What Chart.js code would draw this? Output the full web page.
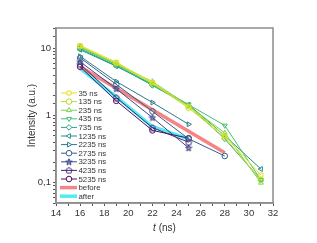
<!DOCTYPE html>
<html>
<head>
<meta charset="utf-8">
<script src="https://cdn.jsdelivr.net/npm/chart.js@4/dist/chart.umd.min.js"></script>
<style>
  html, body { margin: 0; padding: 0; background: #fff; }
  #wrap { width: 317px; height: 243px; }
</style>
</head>
<body>
<div id="wrap"><canvas id="chart" width="317" height="243"></canvas></div>
<script>
// delay times (x axis, ns)
const tNs = [16, 19, 22, 25, 28, 31];
const xTicks = [14, 16, 18, 20, 22, 24, 26, 28, 30, 32];

const labels = ["35 ns", "135 ns", "235 ns", "435 ns", "735 ns", "1235 ns",
                "2235 ns", "2735 ns", "3235 ns", "4235 ns", "5235 ns"];

// intensity (a.u.), one array per delay
const i35   = [11.0, 6.2, 3.1, 1.35, 0.50, 0.13];
const i135  = [10.7, 6.0, 3.0, 1.30, 0.47, 0.11];
const i235  = [10.5, 5.8, 3.2, 1.40, 0.55, 0.10];
const i435  = [10.2, 5.7, 2.9, 1.45, 0.71, 0.11];
const i735  = [9.8, 5.5, 2.8, 1.40, 0.45, 0.11];
const i1235 = [9.5, 5.4, 2.9, 1.45, 0.50, 0.16];
const i2235 = [7.6, 3.2, 1.56, 0.74];
const i2735 = [7.2, 2.9, 1.15, 0.45, 0.25];
const i3235 = [6.3, 2.5, 0.93, 0.33];
const i4235 = [5.8, 1.85, 0.66, 0.40];
const i5235 = [5.3, 1.65, 0.60, 0.46];

// fitted guides
const beforeT = [16, 28];
const beforeI = [5.3, 0.28];
const afterT = [16, 19, 22, 25];
const afterI = [5.0, 1.9, 0.68, 0.45];

const series = [i35, i135, i235, i435, i735, i1235, i2235, i2735, i3235, i4235, i5235];
const colors = ["#e4e01a", "#b5de2b", "#7ad151", "#44bf70", "#22a884", "#21918c",
                "#2a788e", "#355f8d", "#414487", "#482475", "#46105e"];

// custom polygon markers drawn on small canvases
function shapeImage(kind, color) {
  const c = document.createElement('canvas');
  c.width = 8; c.height = 8;
  const g = c.getContext('2d');
  g.strokeStyle = color;
  g.lineWidth = 1;
  g.beginPath();
  const n = kind === 'star' ? 10 : 5;
  for (let k = 0; k < n; k++) {
    const a = -Math.PI / 2 + k * 2 * Math.PI / n;
    const r = kind === 'star' ? (k % 2 ? 1.4 : 3.4) : 3.2;
    const px = 4 + r * Math.cos(a), py = 4.3 + r * Math.sin(a);
    if (k === 0) g.moveTo(px, py); else g.lineTo(px, py);
  }
  g.closePath();
  if (kind === 'star') { g.fillStyle = 'rgba(90,100,170,0.6)'; g.fill(); }
  g.stroke();
  return c;
}

const styles = [
  ['rect', 0], ['circle', 0], ['triangle', 0], ['triangle', 180], ['rectRot', 0],
  ['triangle', 270], ['triangle', 90], ['circle', 0], [shapeImage('star', colors[8]), 0],
  [shapeImage('pentagon', colors[9]), 0], ['circle', 0]
];

const datasets = series.map((vals, i) => ({
  label: labels[i],
  data: vals.map((v, j) => ({ x: tNs[j], y: v })),
  borderColor: colors[i],
  backgroundColor: 'rgba(255,255,255,0)',
  borderWidth: 1,
  pointStyle: styles[i][0],
  pointRotation: styles[i][1],
  pointRadius: 2.8,
  pointBorderWidth: 1,
  tension: 0
}));

datasets.push({
  label: 'before',
  data: beforeT.map((t, j) => ({ x: t, y: beforeI[j] })),
  borderColor: 'rgba(244,110,110,0.85)',
  borderWidth: 3.5,
  pointRadius: 0,
  order: 5
});
datasets.push({
  label: 'after',
  data: afterT.map((t, j) => ({ x: t, y: afterI[j] })),
  borderColor: 'rgba(60,235,240,0.9)',
  borderWidth: 3.5,
  pointRadius: 0,
  order: 5
});

const frameAndText = {
  id: 'frameAndText',
  afterDraw(chart) {
    const { ctx, chartArea: a } = chart;
    ctx.save();
    ctx.strokeStyle = '#8c8c8c';
    ctx.lineWidth = 1.5;
    ctx.strokeRect(a.left, a.top, a.right - a.left, a.bottom - a.top);

    // axis titles
    ctx.fillStyle = '#333';
    ctx.textBaseline = 'middle';
    const rest = ' (ns)';
    ctx.font = '10px "Liberation Sans", Arial';
    const wRest = ctx.measureText(rest).width;
    ctx.font = 'italic 10px "Liberation Sans", Arial';
    const wT = ctx.measureText('t').width;
    const cx = (a.left + a.right) / 2;
    let x0 = cx - (wT + wRest) / 2;
    ctx.textAlign = 'left';
    ctx.fillText('t', x0, 228);
    ctx.font = '10px "Liberation Sans", Arial';
    ctx.fillText(rest, x0 + wT, 228);

    ctx.translate(32, (a.top + a.bottom) / 2);
    ctx.rotate(-Math.PI / 2);
    ctx.textAlign = 'center';
    ctx.fillText('Intensity (a.u.)', 0, 0);
    ctx.restore();

    // legend inside plot
    ctx.save();
    ctx.font = '7.8px "Liberation Sans", Arial';
    ctx.textBaseline = 'middle';
    ctx.textAlign = 'left';
    chart.data.datasets.forEach((ds, i) => {
      const y = 93 + i * 8.6;
      const thick = ds.pointRadius === 0;
      ctx.strokeStyle = ds.borderColor;
      ctx.lineWidth = thick ? 3.5 : 1;
      ctx.beginPath();
      ctx.moveTo(thick ? 60 : 61, y);
      ctx.lineTo(77, y);
      ctx.stroke();
      if (!thick) {
        ctx.fillStyle = '#fff';
        ctx.lineWidth = 1;
        Chart.helpers.drawPoint(ctx, {
          pointStyle: ds.pointStyle, rotation: ds.pointRotation,
          radius: 2.8, borderWidth: 1
        }, 69, y);
      }
      ctx.fillStyle = '#333';
      ctx.fillText(ds.label, 78.5, y + 0.5);
    });
    ctx.restore();
  }
};

new Chart('chart', {
  type: 'line',
  data: { datasets },
  options: {
    responsive: false,
    animation: false,
    layout: { padding: { left: 0, top: 28, right: 44, bottom: 0 } },
    plugins: { legend: { display: false }, tooltip: { enabled: false } },
    scales: {
      x: {
        type: 'linear',
        min: 14, max: 32,
        afterFit: s => { s.height = 40; },
        grid: { drawOnChartArea: false, tickLength: 3, tickColor: '#555' },
        border: { color: '#8c8c8c', width: 1.5 },
        ticks: {
          stepSize: 1, autoSkip: false, maxRotation: 0, padding: 2,
          color: '#333', font: { size: 9.5, family: '"Liberation Sans", Arial' },
          callback: v => xTicks.includes(v) ? String(v) : ''
        }
      },
      y: {
        type: 'logarithmic',
        min: 0.05, max: 20,
        afterFit: s => { s.width = 56; },
        grid: { drawOnChartArea: false, tickLength: 3, tickColor: '#555' },
        border: { color: '#8c8c8c', width: 1.5 },
        ticks: {
          autoSkip: false, padding: 2,
          color: '#333', font: { size: 9.5, family: '"Liberation Sans", Arial' },
          callback: v => {
            const l = Math.log10(v);
            return Math.abs(l - Math.round(l)) < 1e-6 ? String(v).replace('.', ',') : '';
          }
        }
      }
    }
  },
  plugins: [frameAndText]
});
</script>
</body>
</html>
